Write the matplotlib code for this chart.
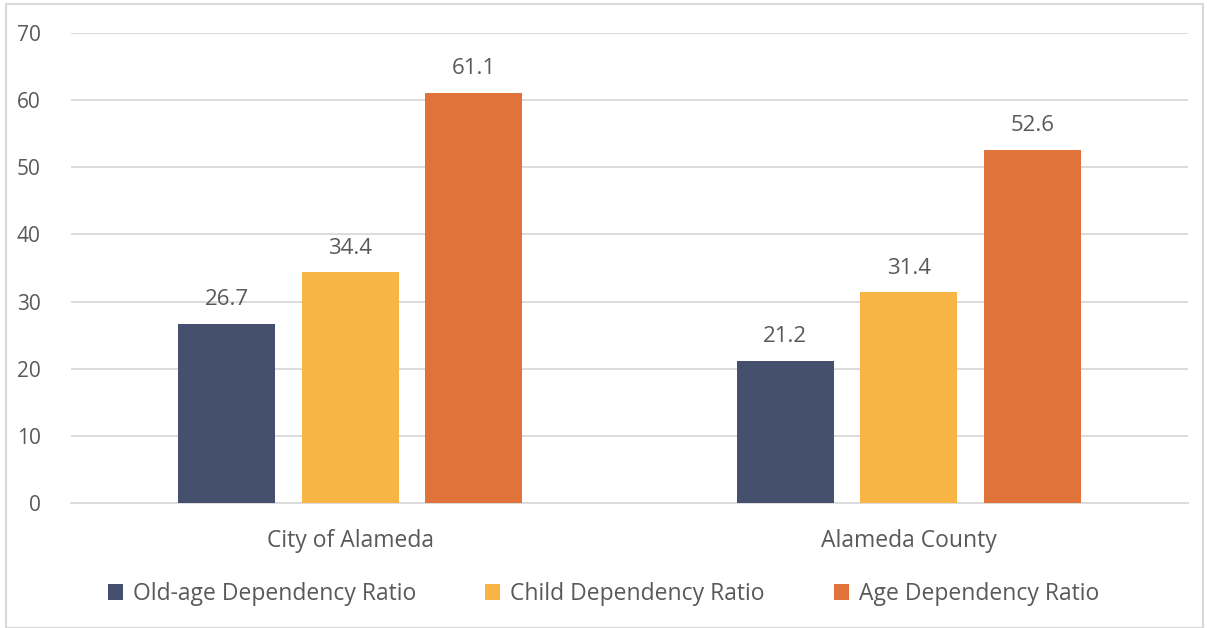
import numpy as np
import matplotlib.pyplot as plt
from matplotlib.patches import Rectangle

plt.rcParams['font.family'] = ['Open Sans', 'DejaVu Sans']

categories = ['City of Alameda', 'Alameda County']
series_names = ['Old-age Dependency Ratio', 'Child Dependency Ratio', 'Age Dependency Ratio']
old_age = [26.7, 21.2]
child = [34.4, 31.4]
age = [61.1, 52.6]
colors = ['#454f6e', '#f8b445', '#e07339']
text_color = '#595959'

fig = plt.figure(figsize=(12.07, 6.28), dpi=100)
ax = fig.add_axes([71 / 1207, 1 - 503 / 628, 1117 / 1207, 470 / 628])

x = np.arange(len(categories))
width = 0.174
step = 0.221
for i, (vals, name) in enumerate(zip([old_age, child, age], series_names)):
    bars = ax.bar(x + (i - 1) * step, vals, width, color=colors[i], label=name, zorder=3)
    for b, v in zip(bars, vals):
        ax.text(b.get_x() + b.get_width() / 2, v + 2.0, f'{v:.1f}', ha='center', va='bottom',
                fontsize=16, color=text_color)

ax.set_xlim(-0.5, 1.5)
ax.set_ylim(0, 70)
ax.set_yticks(range(0, 71, 10))
ax.yaxis.grid(True, color='#d9d9d9', linewidth=1.3, zorder=0)
ax.set_axisbelow(True)
for s in ['top', 'right', 'left']:
    ax.spines[s].set_visible(False)
ax.spines['bottom'].set_color('#d9d9d9')
ax.spines['bottom'].set_linewidth(1.3)
ax.tick_params(axis='y', length=0, pad=22, labelsize=15, labelcolor=text_color)
ax.tick_params(axis='x', length=0, pad=19, labelsize=16.5, labelcolor=text_color)
ax.set_xticks(x)
ax.set_xticklabels(categories)

leg = fig.legend(loc='center', bbox_to_anchor=(0.5, 1 - 594 / 628), ncol=3, frameon=False,
                 fontsize=16.5, handlelength=0.65, handleheight=0.65, columnspacing=3.0,
                 handletextpad=0.45)
for t in leg.get_texts():
    t.set_color(text_color)

fig.patches.append(Rectangle((6 / 1207, 0), 1197 / 1207, 1 - 4 / 628, transform=fig.transFigure,
                             fill=False, edgecolor='#d9d9d9', linewidth=1.5))

fig.savefig('out.png', dpi=100)
